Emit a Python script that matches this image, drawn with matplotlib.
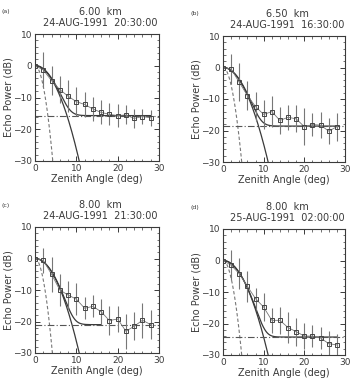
import numpy as np
import matplotlib
matplotlib.use("Agg")
import matplotlib.pyplot as plt
from matplotlib.ticker import MultipleLocator

angles = [0, 2, 4, 6, 8, 10, 12, 14, 16, 18, 20, 22, 24, 26, 28]

labels = ["(a)", "(b)", "(c)", "(d)"]
heights = ["6.00  km", "6.50  km", "8.00  km", "8.00  km"]
times = ["24-AUG-1991  20:30:00", "24-AUG-1991  16:30:00",
         "24-AUG-1991  21:30:00", "25-AUG-1991  02:00:00"]

power_a = [0, -1.3, -4.7, -7.5, -9.6, -11.3, -12.2, -13.6, -14.7, -15.3, -15.7, -15.5, -16.6, -16.0, -16.4]
power_b = [0, -0.5, -4.7, -8.9, -12.4, -14.9, -14.0, -16.8, -15.8, -16.3, -18.8, -18.1, -18.3, -20.2, -18.8]
power_c = [0, -0.6, -5.0, -10.0, -11.6, -12.9, -15.8, -15.2, -16.9, -19.7, -19.2, -23.1, -21.5, -19.6, -21.0]
power_d = [0, -1.5, -4.2, -8.2, -12.1, -14.8, -19.0, -19.0, -21.3, -22.6, -24.0, -24.0, -24.6, -26.4, -26.8]

err_a = [0, 5.5, 4.5, 4.3, 5.0, 4.5, 4.0, 3.8, 3.8, 3.5, 3.5, 3.0, 3.0, 2.5, 2.5]
err_b = [0, 4.8, 6.0, 4.5, 4.5, 4.6, 4.8, 4.3, 4.0, 4.3, 5.8, 3.5, 4.2, 4.2, 4.5]
err_c = [0, 4.0, 5.5, 5.0, 4.5, 5.0, 3.5, 3.5, 4.0, 4.5, 4.0, 5.5, 4.5, 5.5, 4.5]
err_d = [0, 4.7, 5.0, 5.0, 3.5, 4.5, 4.0, 4.2, 5.0, 4.5, 4.2, 3.6, 3.6, 4.0, 3.6]

noise_db = [-15.7, -18.6, -21.0, -24.3]
fit_zero_angle = [10.7, 11.1, 10.7, 11.1]     # angle where Gaussian fit reaches -30 dB
beam_zero_angle = [4.3, 4.6, 4.2, 4.6]        # angle where beam pattern reaches -30 dB
fit_end = [28, 28, 16, 28]

powers = [power_a, power_b, power_c, power_d]
errs = [err_a, err_b, err_c, err_d]

W, H = 354, 382
fig = plt.figure(figsize=(W / 100, H / 100), dpi=100)
fig.patch.set_facecolor("white")

boxes = [(35, 159, 34, 161), (223, 345, 36, 162), (35, 159, 227, 353), (223, 345, 229, 355)]
ink = "#3a3a3a"
fs = 6.5

for i, (l, r, t, b) in enumerate(boxes):
    ax = fig.add_axes([l / W, 1 - b / H, (r - l) / W, (b - t) / H])
    th = np.linspace(0, 30, 600)
    g = -30 * (th / fit_zero_angle[i]) ** 2
    m = th <= fit_zero_angle[i] * 1.02
    ax.plot(th[m], g[m], color=ink, lw=0.9)
    comb = 10 * np.log10(10 ** (g / 10) + 10 ** (noise_db[i] / 10))
    m2 = th <= fit_end[i]
    ax.plot(th[m2], comb[m2], color=ink, lw=0.9)
    bp = -30 * (th / beam_zero_angle[i]) ** 2
    m3 = th <= beam_zero_angle[i] * 1.01
    ax.plot(th[m3], bp[m3], color="#777777", lw=0.8, ls=(0, (3, 2)))
    ax.axhline(noise_db[i], color="#555555", lw=0.8, ls=(0, (6, 2, 1, 2)))
    ax.errorbar(angles, powers[i], yerr=errs[i], color="#777777", lw=0.6,
                elinewidth=0.8, capsize=0, marker="s", ms=3.2, mfc="none",
                mec="#444444", mew=0.7)
    ax.set_xlim(0, 30)
    ax.set_ylim(-30, 10)
    ax.xaxis.set_major_locator(MultipleLocator(10))
    ax.xaxis.set_minor_locator(MultipleLocator(2))
    ax.yaxis.set_major_locator(MultipleLocator(10))
    ax.yaxis.set_minor_locator(MultipleLocator(2))
    ax.tick_params(which="both", direction="in", top=True, right=True,
                   colors=ink, labelsize=fs, pad=2)
    ax.tick_params(which="major", length=3.5, width=0.7)
    ax.tick_params(which="minor", length=1.8, width=0.5)
    for s in ax.spines.values():
        s.set_color(ink)
        s.set_linewidth(0.8)
    ax.set_xlabel("Zenith Angle (deg)", fontsize=7, color=ink, labelpad=1)
    ax.set_ylabel("Echo Power (dB)", fontsize=7, color=ink, labelpad=0)
    cx = (l + r) / 2 / W + 0.01
    fig.text(cx, 1 - (t - 22) / H, heights[i], ha="center", va="center",
             fontsize=7, color=ink)
    fig.text(cx, 1 - (t - 11) / H, times[i], ha="center", va="center",
             fontsize=7, color=ink)
    fig.text((l - 33) / W, 1 - (t - 22) / H, labels[i], ha="left",
             va="center", fontsize=4.5, color=ink)

fig.savefig("out.png", dpi=100, facecolor="white")
